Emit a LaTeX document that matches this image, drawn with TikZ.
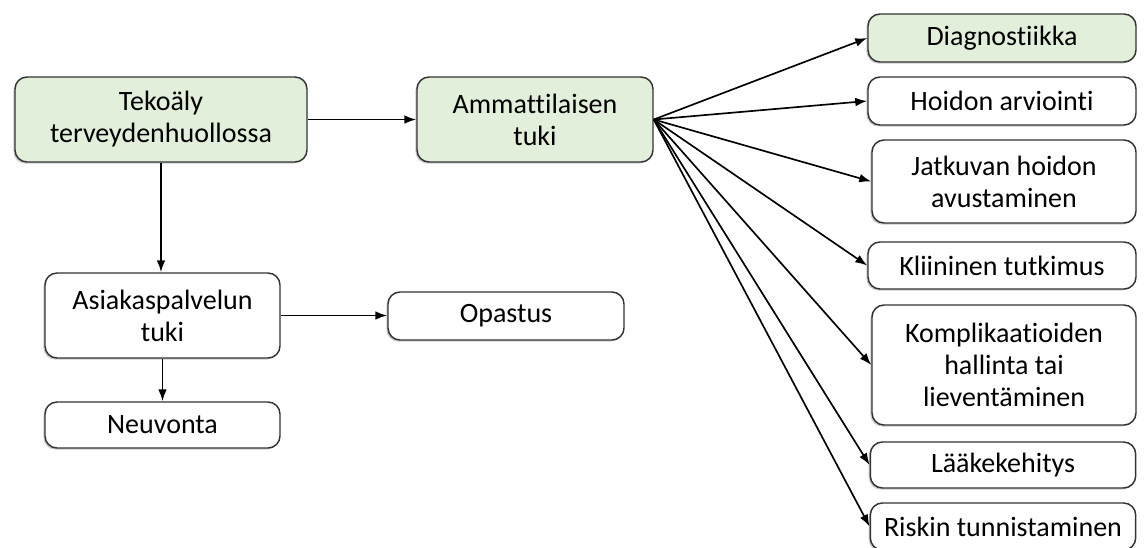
\documentclass[tikz,border=0pt]{standalone}
\usepackage{fontspec}
\setmainfont{Carlito}[Ligatures=NoCommon]
\usetikzlibrary{arrows.meta,shadows}
\definecolor{boxgreen}{HTML}{E2EFDA}
\definecolor{boxline}{HTML}{333333}

\begin{document}
\begin{tikzpicture}[x=0.75pt,y=-0.75pt,
	box/.style={draw=boxline,line width=1.1pt,rounded corners=9pt,fill=white,align=center,
		inner sep=2pt,font=\fontsize{21}{24}\selectfont,
		drop shadow={shadow xshift=-1.2pt,shadow yshift=-1.2pt,opacity=.4}},
	green/.style={fill=boxgreen},
	arr/.style={-{Latex[length=9pt,width=6.5pt]},line width=1.25pt}]
		\useasboundingbox (0,0) rectangle (1146,547);

		\node[box,green,minimum width=219pt,minimum height=63.75pt] (t1) at (161,119.5) {Tekoäly\\terveydenhuollossa};
		\node[box,green,minimum width=177pt,minimum height=63.75pt] (t2) at (535,119.5) {Ammattilaisen\\tuki};

		\node[box,minimum width=176.25pt,minimum height=63.75pt] (a1) at (162.5,315.5) {Asiakaspalvelun\\tuki};
		\node[box,minimum width=176.25pt,minimum height=34.5pt] (a2) at (162.5,425) {Neuvonta};
		\node[box,minimum width=177pt,minimum height=36pt] (a3) at (506,316) {Opastus};

		\node[box,green,minimum width=201pt,minimum height=36pt] (r1) at (1002,38) {Diagnostiikka};
		\node[box,minimum width=201pt,minimum height=36pt] (r2) at (1002,101) {Hoidon arviointi};
		\node[box,minimum width=198pt,minimum height=62.25pt] (r3) at (1004,181.5) {Jatkuvan hoidon\\avustaminen};
		\node[box,minimum width=201pt,minimum height=35.25pt] (r4) at (1002,265.5) {Kliininen tutkimus};
		\node[box,minimum width=198pt,minimum height=90pt] (r5) at (1004,365) {Komplikaatioiden\\hallinta tai\\lieventäminen};
		\node[box,minimum width=199pt,minimum height=34.5pt] (r6) at (1003,465) {Lääkekehitys};
		\node[box,minimum width=199pt,minimum height=35.25pt] (r7) at (1003,526.5) {Riskin tunnistaminen};

		\draw[arr] (t1) -- (t2);
		\draw[arr] (t1.south) -- (t1.south |- a1.north);
		\draw[arr] (a1) -- (a1.east -| a3.west);
		\draw[arr] (a1) -- (a2);

		\draw[arr] (t2.east) -- (r1.west);
		\draw[arr] (t2.east) -- (r2.west);
		\draw[arr] (t2.east) -- (r3.west);
		\draw[arr] (t2.east) -- (r4.west);
		\draw[arr] (t2.east) -- (r5.west);
		\draw[arr] (t2.east) -- (r6.west);
		\draw[arr] (t2.east) -- (r7.west);
	\end{tikzpicture}
\end{document}
